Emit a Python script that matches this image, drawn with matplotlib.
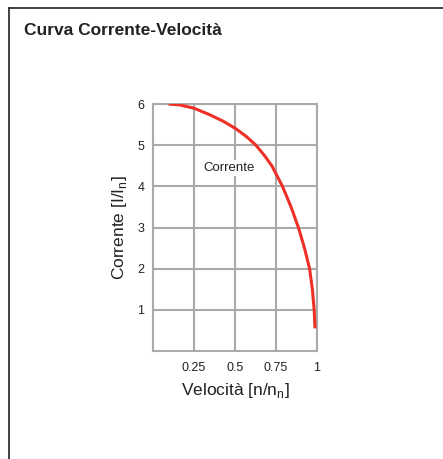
import matplotlib
matplotlib.use("Agg")
import matplotlib.pyplot as plt
from matplotlib.lines import Line2D

plt.rcParams['font.family'] = ['Liberation Sans', 'DejaVu Sans']

# current vs speed
speed = [0.096, 0.163, 0.25, 0.347, 0.43, 0.506, 0.57, 0.628, 0.68, 0.725, 0.79,
         0.842, 0.887, 0.924, 0.955, 0.972, 0.983, 0.988]
current = [6.0, 5.98, 5.9, 5.74, 5.58, 5.4, 5.21, 5.0, 4.75, 4.5, 4.0,
           3.5, 3.0, 2.5, 2.0, 1.5, 1.0, 0.55]

x_ticks = [0.25, 0.5, 0.75, 1]
x_tick_labels = ['0.25', '0.5', '0.75', '1']
y_ticks = [1, 2, 3, 4, 5, 6]

grid_col = '#aaaaab'
text_col = '#222222'

fig = plt.figure(figsize=(4.43, 4.59), dpi=100)
ax = fig.add_axes([0.345, 0.2353, 0.3705, 0.538])

ax.set_xlim(0, 1)
ax.set_ylim(0, 6)
ax.set_xticks(x_ticks)
ax.set_xticklabels(x_tick_labels)
ax.set_yticks(y_ticks)
ax.grid(True, color=grid_col, linewidth=1.5)
ax.set_axisbelow(True)
for s in ax.spines.values():
    s.set_color(grid_col)
    s.set_linewidth(1.5)
ax.tick_params(length=0, labelsize=9, colors=text_col)
ax.tick_params(axis='x', pad=8)
ax.tick_params(axis='y', pad=6)

ax.plot(speed, current, color='#ee3027', linewidth=2.2, solid_capstyle='butt',
        solid_joinstyle='round', zorder=3)

ax.text(0.463, 4.45, 'Corrente', ha='center', va='center', fontsize=9.5, color=text_col,
        bbox=dict(facecolor='white', edgecolor='none', pad=1.5), zorder=2)

ax.set_xlabel(r'Velocità [n/n$_{\mathregular{n}}$]', fontsize=12.5, color=text_col, labelpad=5)
ax.set_ylabel(r'Corrente [I/I$_{\mathregular{n}}$]', fontsize=12.5, color=text_col, labelpad=6)

fig.text(0.054, 0.934, 'Curva Corrente-Velocità', fontsize=12.5, fontweight='bold',
         color=text_col, ha='left', va='center')

# panel edges at top and left
fig.add_artist(Line2D([9 / 443, 1], [1 - 8 / 459, 1 - 8 / 459], color='#333333', linewidth=1.3))
fig.add_artist(Line2D([9 / 443, 9 / 443], [0, 1 - 8 / 459], color='#333333', linewidth=1.3))

fig.savefig('out.png', dpi=100)
